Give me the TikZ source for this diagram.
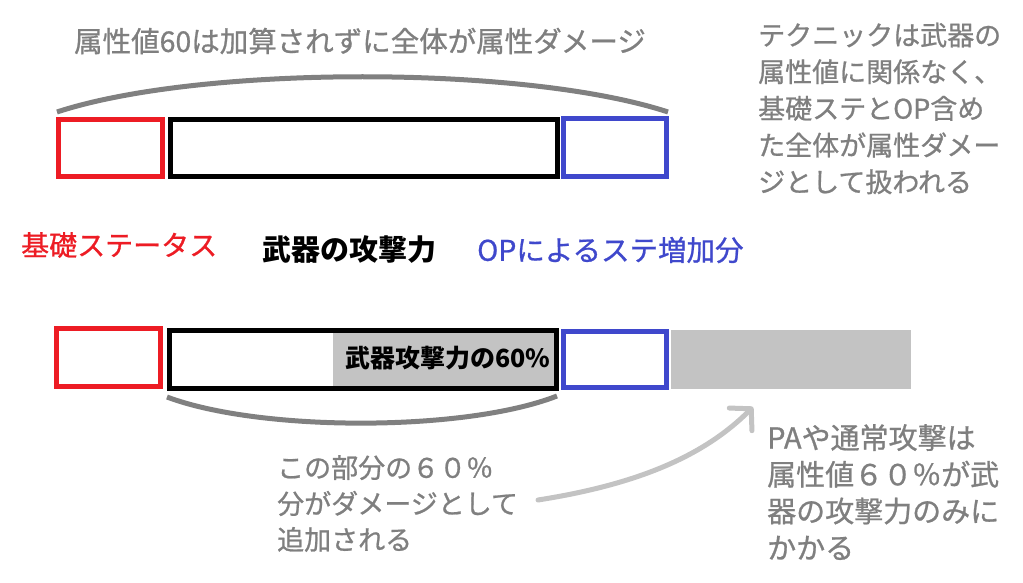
\documentclass[tikz,border=0pt]{standalone}
\usepackage{fontspec}
\setmainfont{Noto Sans CJK JP}
\newfontfamily\medfont{Noto Sans CJK JP}[FakeBold=0.8]
\usetikzlibrary{arrows.meta}
\definecolor{myred}{HTML}{ED1C24}
\definecolor{myblue}{HTML}{3F48CC}
\definecolor{txtgray}{HTML}{7F7F7F}
\definecolor{arcgray}{HTML}{808080}
\definecolor{lgray}{HTML}{C3C3C3}
\begin{document}
\begin{tikzpicture}[x=1pt,y=-1pt,
  boxnode/.style={draw, line width=5pt, inner sep=0pt, outer sep=0pt},
  arcline/.style={draw=arcgray, line width=5pt},
  graytext/.style={text=txtgray, inner sep=0pt, anchor=north west, align=left},
  label/.style={inner sep=0pt, anchor=west}]
\useasboundingbox[fill=white] (0,0) rectangle (1023,583);

% title
\node[text=txtgray, inner sep=0pt, font=\medfont\fontsize{28.5}{30}\selectfont] (title) at (360,41) {属性値60は加算されずに全体が属性ダメージ};

% top row
\node[boxnode, draw=myred, minimum width=104, minimum height=57] (tr) at (110.5,148) {};
\node[boxnode, draw=black, minimum width=387, minimum height=57] (tk) at (364,148) {};
\node[boxnode, draw=myblue, minimum width=103, minimum height=58] (tb) at (615,147.5) {};
\coordinate (ta) at (57,112);
\coordinate (tz) at (668,112);
\draw[arcline] (ta) .. controls (200,65) and (525,65) .. (tz);

% right text
\node[graytext, font=\medfont\fontsize{27}{36.7}\selectfont] (rtext) at (758,22.5) {テクニックは武器の\\属性値に関係なく、\\基礎ステとOP含め\\た全体が属性ダメー\\ジとして扱われる};

% labels
\node[label, text=myred, font=\medfont\fontsize{28}{30}\selectfont] (l1) at (21,245) {基礎ステータス};
\node[label, text=black, font=\bfseries\fontsize{29}{30}\selectfont] (l2) at (262,250) {武器の攻撃力};
\node[label, text=myblue, font=\medfont\fontsize{28.5}{30}\selectfont] (l3) at (477,250) {OPによるステ増加分};

% bottom row
\fill[lgray] (333,330.5) rectangle (556.5,388.5);
\node[boxnode, draw=myred, minimum width=104, minimum height=58] (br) at (108.5,357.5) {};
\node[boxnode, draw=black, minimum width=387, minimum height=58] (bk) at (363,359.5) {};
\node[boxnode, draw=myblue, minimum width=103, minimum height=56] (bb) at (615,359.5) {};
\node[fill=lgray, inner sep=0pt, minimum width=240, minimum height=59] (bg) at (791,359.5) {};
\node[inner sep=0pt, font=\bfseries\fontsize{25}{27}\selectfont] (pct) at (448,358) {武器攻撃力の60\%};
\coordinate (ba) at (167,397);
\coordinate (bz) at (557,396);
\draw[arcline] (ba) .. controls (260,432) and (465,432) .. (bz);

% bottom texts
\node[graytext, font=\medfont\fontsize{27}{36}\selectfont] (ltext) at (277,455) {この部分の６０％\\分がダメージとして\\追加される};
\node[graytext, font=\medfont\fontsize{29}{36.7}\selectfont] (btext) at (767,424) {PAや通常攻撃は\\属性値６０％が武\\器の攻撃力のみに\\かかる};

% arrow
\coordinate (as) at (538,500);
\coordinate (ae) at (753,407);
\draw[draw=lgray, line width=5pt, line cap=round, -{Straight Barb[length=15pt,width=32pt,round]}] (as) .. controls (640,484) and (705,455) .. (ae);
\end{tikzpicture}
\end{document}
